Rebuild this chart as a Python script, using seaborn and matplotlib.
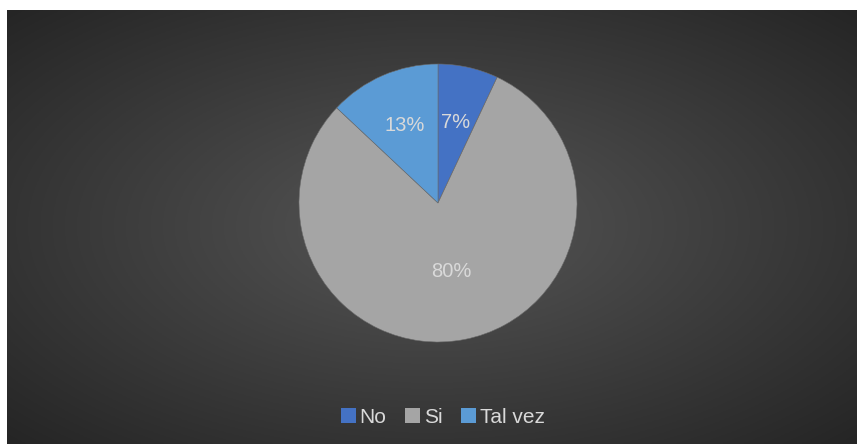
import numpy as np
import matplotlib
matplotlib.use("Agg")
import matplotlib.pyplot as plt
import seaborn as sns
from matplotlib.patches import Rectangle

categories = ["No", "Si", "Tal vez"]
values = [7, 80, 13]
colors = ["#4472C4", "#A5A5A5", "#5B9BD5"]

sns.set_theme(style="white")
plt.rcParams["font.family"] = ["Liberation Sans", "DejaVu Sans"]

W, H = 857, 444
fig = plt.figure(figsize=(W / 100, H / 100), dpi=100, facecolor="white")

# dark radial-gradient panel
bg = fig.add_axes([7 / W, 0, (W - 7) / W, (H - 10) / H])
gx, gy = np.meshgrid(np.linspace(-1, 1, 400), np.linspace(-1, 1, 200))
d = np.clip(np.sqrt(gx ** 2 + gy ** 2) / np.sqrt(2), 0, 1)
inner, outer = 0x56 / 255, 0x25 / 255
img = inner + (outer - inner) * d
bg.imshow(np.dstack([img, img, img]), aspect="auto", extent=[0, 1, 0, 1])
bg.set_axis_off()

# pie axes: centre (438, 203), radius 139 px
r_px = 139
cx, cy = 438, 203
ax = fig.add_axes([(cx - r_px) / W, (H - cy - r_px) / H, 2 * r_px / W, 2 * r_px / H])
ax.set_facecolor("none")
wedges, _ = ax.pie(values, colors=colors, startangle=90, counterclock=False,
                   radius=1.0, wedgeprops=dict(linewidth=0.4, edgecolor="#6a6a6a"))
ax.set_xlim(-1, 1)
ax.set_ylim(-1, 1)
ax.set_aspect("equal")

label_dist = [0.59, 0.5, 0.61]
for w, v, dist in zip(wedges, values, label_dist):
    ang = np.deg2rad((w.theta1 + w.theta2) / 2)
    ax.text(dist * np.cos(ang), dist * np.sin(ang), f"{v}%", ha="center", va="center",
            color="#D9D9D9", fontsize=14.5)

handles = [Rectangle((0, 0), 1, 1, facecolor=c, edgecolor="none") for c in colors]
leg = fig.legend(handles, categories, loc="center", bbox_to_anchor=(443 / W, 1 - 417 / H),
                 ncol=3, frameon=False, fontsize=15, handlelength=0.7, handleheight=0.7,
                 handletextpad=0.2, columnspacing=0.9, labelcolor="#D9D9D9")

fig.savefig("out.png", dpi=100, facecolor="white")
